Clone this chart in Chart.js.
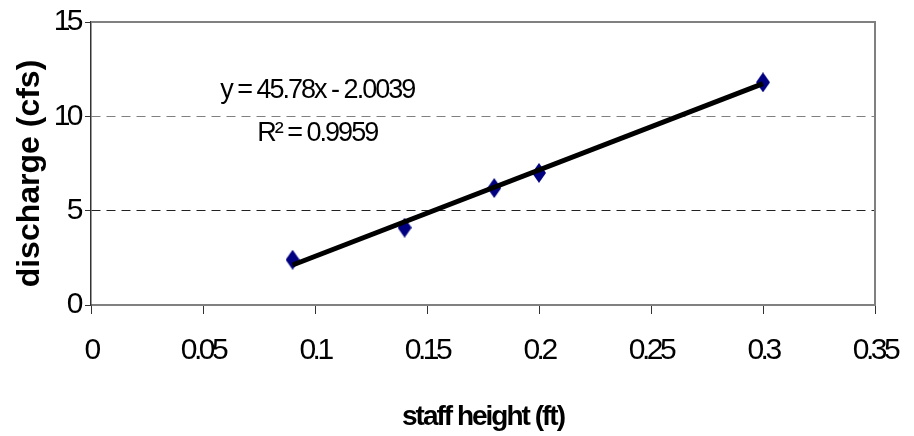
<!DOCTYPE html>
<html>
<head>
<meta charset="utf-8">
<script src="https://cdn.jsdelivr.net/npm/chart.js@4.4.1/dist/chart.umd.min.js"></script>
<style>
  html, body { margin: 0; padding: 0; background: #fff; }
  #wrap { width: 914px; height: 436px; }
</style>
</head>
<body>
<div id="wrap"><canvas id="ratingChart" width="914" height="436"></canvas></div>
<script>
// --- datos ---
const staffHeight = [0.09, 0.14, 0.18, 0.2, 0.3];
const discharge = [2.4, 4.1, 6.2, 7.0, 11.8];
// extremos de la línea de tendencia (y = 45.78x - 2.0039)
const trendX = [0.09, 0.3];
const trendY = [2.12, 11.73];
const equationLines = ['y = 45.78x - 2.0039', 'R² = 0.9959'];
const xTicks = [0, 0.05, 0.1, 0.15, 0.2, 0.25, 0.3, 0.35];
const yTicks = [0, 5, 10, 15];

Chart.defaults.font.family = "'Liberation Sans', Arial, sans-serif";
Chart.defaults.color = '#000';

// texto comprimido como en el original (por eje)
const labelSpacing = { x: '-3.5px', y: '-3.5px' };
const titleSpacing = { x: '-2px', y: '0px' };
const titleShift = { x: 0, y: 10 };

const baseDrawLabels = Chart.Scale.prototype.drawLabels;
Chart.Scale.prototype.drawLabels = function (area) {
    this.ctx.save();
    this.ctx.letterSpacing = labelSpacing[this.id] || '0px';
    baseDrawLabels.call(this, area);
    this.ctx.restore();
};
const baseDrawTitle = Chart.Scale.prototype.drawTitle;
Chart.Scale.prototype.drawTitle = function () {
    this.ctx.save();
    this.ctx.letterSpacing = titleSpacing[this.id] || '0px';
    this.ctx.translate(0, titleShift[this.id] || 0);
    baseDrawTitle.call(this);
    this.ctx.restore();
};

// marcador de rombo alto
const diamond = document.createElement('canvas');
diamond.width = 14;
diamond.height = 20;
const dctx = diamond.getContext('2d');
dctx.fillStyle = '#000080';
dctx.beginPath();
dctx.moveTo(7, 0);
dctx.lineTo(14, 10);
dctx.lineTo(7, 20);
dctx.lineTo(0, 10);
dctx.closePath();
dctx.fill();

const excelLook = {
    id: 'excelLook',
    beforeDatasetsDraw(chart) {
        const { ctx, chartArea: a } = chart;
        ctx.save();
        ctx.strokeStyle = '#808080';
        ctx.lineWidth = 2;
        ctx.beginPath();
        ctx.moveTo(a.left, a.top);
        ctx.lineTo(a.right, a.top);
        ctx.lineTo(a.right, a.bottom);
        ctx.stroke();
        ctx.restore();
    },
    afterDraw(chart) {
        const { ctx, scales } = chart;
        ctx.save();
        ctx.letterSpacing = '-2px';
        ctx.font = "27px 'Liberation Sans', Arial, sans-serif";
        ctx.fillStyle = '#000';
        ctx.textAlign = 'center';
        ctx.textBaseline = 'middle';
        const cx = scales.x.getPixelForValue(0.101);
        ctx.fillText(equationLines[0], cx, scales.y.getPixelForValue(11.35));
        ctx.fillText(equationLines[1], cx, scales.y.getPixelForValue(9.07));
        ctx.restore();
    }
};

const points = staffHeight.map((x, i) => ({ x: x, y: discharge[i] }));
const trend = trendX.map((x, i) => ({ x: x, y: trendY[i] }));

new Chart(document.getElementById('ratingChart'), {
    type: 'scatter',
    data: {
        datasets: [
            {
                label: 'Linear',
                data: trend,
                showLine: true,
                borderColor: '#000',
                borderWidth: 5,
                pointRadius: 0,
                order: 0
            },
            {
                label: 'discharge',
                data: points,
                pointStyle: diamond,
                pointRadius: 8,
                order: 1
            }
        ]
    },
    options: {
        responsive: false,
        animation: false,
        layout: { padding: { left: 0, top: 22, right: 39, bottom: 0 } },
        plugins: {
            legend: { display: false },
            tooltip: { enabled: false }
        },
        scales: {
            x: {
                type: 'linear',
                min: xTicks[0],
                max: xTicks[xTicks.length - 1],
                afterBuildTicks: (s) => { s.ticks = xTicks.map(v => ({ value: v })); },
                afterFit: (s) => {
                    s.height = 131;
                    s.paddingLeft = 0;
                    s.paddingRight = 0;
                },
                ticks: {
                    font: { size: 30 },
                    padding: 19,
                    maxRotation: 0,
                    callback: (v) => String(parseFloat(v.toFixed(2)))
                },
                grid: {
                    drawOnChartArea: false,
                    tickLength: 9,
                    tickColor: '#333'
                },
                border: { color: '#808080', width: 2 },
                title: {
                    display: true,
                    text: 'staff height (ft)',
                    font: { size: 28, weight: 'bold' },
                    padding: { top: 0, bottom: 2 }
                }
            },
            y: {
                min: yTicks[0],
                max: yTicks[yTicks.length - 1],
                afterBuildTicks: (s) => { s.ticks = yTicks.map(v => ({ value: v })); },
                afterFit: (s) => {
                    s.width = 91;
                    s.paddingTop = 0;
                    s.paddingBottom = 0;
                },
                ticks: {
                    font: { size: 30 },
                    padding: 5
                },
                grid: {
                    color: (c) => c.tick.value === 10 ? '#808080' : (c.tick.value === 5 ? '#222' : 'rgba(0,0,0,0)'),
                    lineWidth: 1,
                    tickLength: 6,
                    tickColor: '#333',
                    tickBorderDash: []
                },
                border: { color: '#333', width: 1.5, dash: [9, 6] },
                title: {
                    display: true,
                    text: 'discharge (cfs)',
                    font: { size: 32, weight: 'bold' },
                    padding: { top: 11, bottom: 0 }
                }
            }
        }
    },
    plugins: [excelLook]
});
</script>
</body>
</html>
